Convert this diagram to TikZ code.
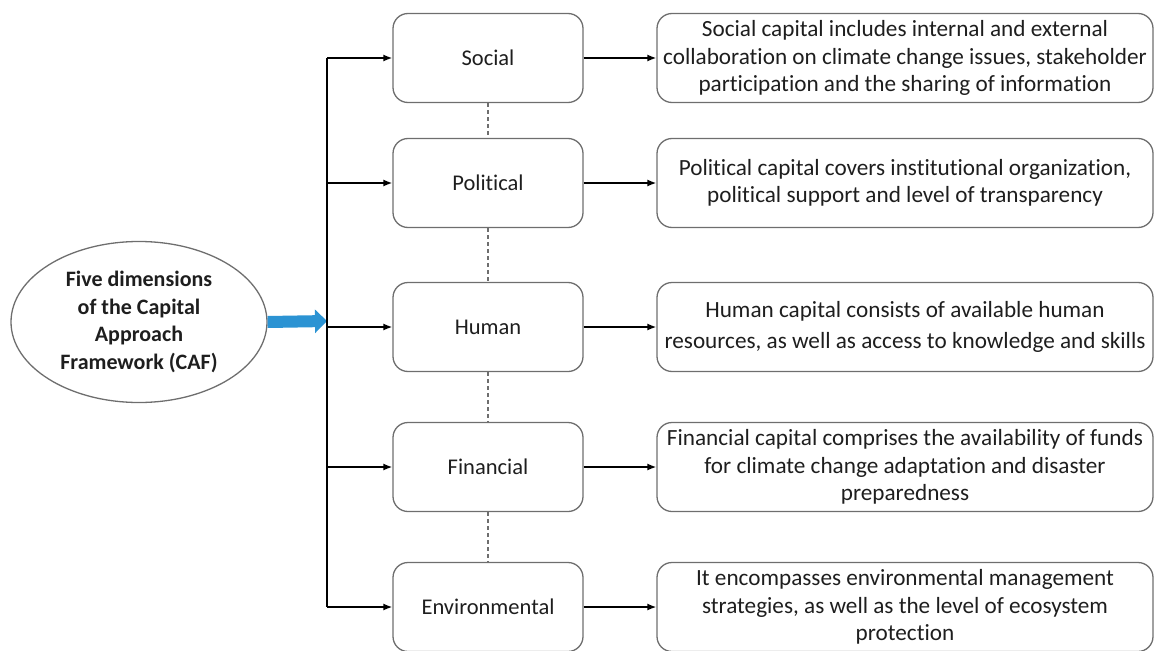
\documentclass[tikz,border=0pt]{standalone}
\usepackage{fontspec}
\setmainfont{Carlito}[Ligatures={NoCommon}]
\usepackage{tikz}
\usetikzlibrary{positioning, calc, arrows.meta, shapes.geometric}
\definecolor{BoxLine}{HTML}{6E6E6E}
\definecolor{InkText}{HTML}{1E1E1E}
\definecolor{FlowBlue}{HTML}{2B93D3}

\tikzset{
  dimbox/.style={draw=BoxLine, line width=1.3pt, rounded corners=15pt,
    minimum width=190pt, minimum height=89pt, align=center,
    font=\fontsize{22.5}{27.5}\selectfont\color{InkText}},
  descbox/.style={dimbox, minimum width=496pt,
    font=\fontsize{23.2}{27.5}\selectfont\color{InkText}},
  link/.style={black, line width=1.5pt, -{Latex[length=9pt, width=7pt]}},
  trunk/.style={black, line width=2.6pt},
  gap/.style={BoxLine, line width=1.3pt, dashed, dash pattern=on 4pt off 3pt}
}

\begin{document}
\begin{tikzpicture}[x=1pt, y=-1pt]
  \useasboundingbox (0,0) rectangle (1155,650);

  %% central ellipse
  \node[ellipse, draw=BoxLine, line width=1.3pt, minimum width=256pt,
    minimum height=161pt, align=center,
    font=\fontsize{22}{27.5}\selectfont\bfseries\color{InkText}]
    (caf) at (139,322) {Five dimensions\\of the Capital\\Approach\\Framework (CAF)};
  \coordinate (hub) at (327,321);
  \draw[FlowBlue, line width=12pt, -{Triangle[length=12pt, width=23pt]}]
    (caf.east) -- (hub);

  %% the five capitals and their descriptions
  \foreach \y/\nm/\lbl/\desc in {
    58/soc/Social/{Social capital includes internal and external\\collaboration on climate change issues, stakeholder\\participation and the sharing of information},
    183/pol/Political/{Political capital covers institutional organization,\\political support and level of transparency},
    327/hum/Human/{Human capital consists of available human\\[4pt]resources, as well as access to knowledge and skills},
    467/fin/Financial/{Financial capital comprises the availability of funds\\for climate change adaptation and disaster\\preparedness},
    607/env/Environmental/{It encompasses environmental management\\strategies, as well as the level of ecosystem\\protection}}{
    \node[dimbox] (\nm) at (488,\y) {\lbl};
    \node[descbox] (\nm-txt) at (905,\y) {\desc};
    \draw[link] (\nm.east) -- (\nm-txt.west);
  }

  %% dotted joins between the boxes
  \foreach \a/\b in {soc/pol, pol/hum, hum/fin, fin/env}
    \draw[gap] (\a.south) -- (\b.north);

  %% branching from the trunk
  \draw[trunk] (hub |- soc) -- (hub |- env);
  \foreach \nm in {soc, pol, hum, fin, env}
    \draw[link] (hub |- \nm) -- (\nm.west);
\end{tikzpicture}
\end{document}
